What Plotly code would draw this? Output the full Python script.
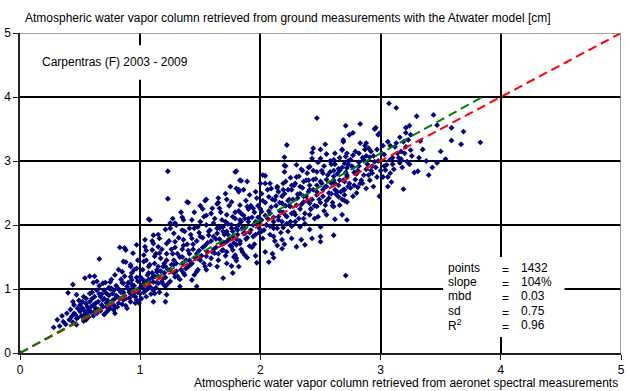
import plotly.graph_objects as go

# Precipitable water (cm): AERONET retrieval (x) vs Atwater model from ground data (y)
# -- scattered points, outskirts of the cloud --
wv_aeronet = [
    0.00,
    3.07, 3.13, 3.44, 3.69, 3.59, 3.83, 3.67, 3.47, 3.59, 3.24, 3.21, 3.21, 3.16, 3.19, 3.25, 3.23, 3.21, 3.25, 3.17, 3.12,
    3.08, 3.02, 3.33, 3.32, 3.38, 3.43, 3.54, 3.47, 3.28, 3.19, 3.09, 3.17, 3.22, 3.16, 3.08, 3.05, 3.11, 3.04, 3.08, 3.06,
    3.02, 2.99, 2.96, 2.99, 2.83, 2.71, 2.77, 2.74, 2.69, 2.83, 2.88, 2.92, 2.87, 2.82, 2.77, 2.72, 2.68, 2.86, 2.91, 2.95,
    2.75, 2.70, 2.72, 2.77, 2.81, 2.88, 2.93, 2.96, 2.72, 2.79, 2.84, 2.91, 2.94, 2.88, 2.81, 2.73, 2.69, 2.77, 2.70, 3.31,
    3.30,
    2.47, 2.95, 2.98, 2.69, 2.87, 2.54, 2.22, 2.43, 2.50, 2.20,
    2.44, 2.50, 2.55, 2.62, 2.68, 2.61, 2.71, 2.43, 2.21, 2.30, 2.20, 2.34, 2.41, 2.47, 2.52, 2.58, 2.65, 2.39, 2.32, 2.25,
    2.19, 2.29, 2.36, 2.44, 2.50, 2.55, 2.61, 2.66, 2.72, 2.02, 1.79, 1.84, 1.89, 2.04, 2.09, 2.15, 2.20, 2.26, 2.33, 2.40,
    2.47, 2.52, 2.59, 2.65, 2.70, 2.72, 2.66, 2.61, 2.54, 2.47, 2.41, 2.36, 2.30, 2.25, 2.18, 2.12, 2.07, 2.01, 1.96, 1.91,
    1.86, 1.80, 1.75, 1.71, 1.76, 1.83, 1.89, 1.94, 2.01, 2.08, 2.15, 2.22, 2.29, 2.36, 2.41, 2.48, 2.55, 2.62, 2.68, 2.72,
    2.50, 2.41, 2.33, 2.26, 2.19, 2.11, 2.05, 1.97, 1.90, 1.83, 1.77, 1.72, 1.69, 1.77, 1.86, 1.94, 2.02, 2.11, 2.18, 2.26,
    2.34, 2.43, 2.50, 2.61, 1.80, 1.91, 1.72,
    2.71, 2.50, 2.37, 2.30, 2.20, 2.18, 2.14, 2.10, 2.11, 2.07, 2.04, 1.97, 1.96, 1.89, 1.82, 1.76, 1.80, 1.79, 1.77,
    1.23, 1.39, 1.50, 1.08, 1.27, 1.29, 1.25, 1.36, 1.43, 1.53, 1.59, 1.66, 1.82, 1.55, 1.64, 1.21, 1.11, 1.04, 1.16, 1.28,
    1.35, 1.41, 1.48, 1.55, 1.61, 1.68, 1.84, 0.97, 0.94, 0.87, 0.86, 0.92, 0.98, 1.03, 1.10, 1.15, 1.22, 1.29, 1.36, 1.43,
    1.50, 1.57, 1.64, 1.72, 1.80, 1.87, 1.83, 1.76, 1.69, 1.62, 1.55, 1.48, 1.41, 1.35, 1.28, 1.21, 1.14, 1.07, 1.00, 0.93,
    0.86, 0.92, 1.03, 1.11, 1.19, 1.29, 1.37, 1.47, 1.55, 1.64, 1.72, 1.80, 1.87, 1.33, 1.47, 1.43, 1.69, 1.77,
    0.66, 0.83, 0.88, 0.92, 0.44, 0.54, 0.58, 0.62, 0.61, 0.69, 0.75, 0.79, 0.85, 0.76, 0.40, 0.47, 0.44, 0.53, 0.58, 0.64,
    0.67, 0.72, 0.83, 0.89, 0.92, 0.50, 0.55, 0.61, 0.69, 0.79, 0.86, 0.50, 0.57, 0.62, 0.72, 0.78, 0.39, 0.43, 0.31, 0.36,
    0.47, 0.28, 0.47, 0.53, 0.55, 1.00, 1.05, 1.12, 1.11, 1.21, 1.22, 0.97, 0.94, 1.03, 1.08, 1.15, 1.21, 1.04, 1.11, 1.12,
    1.16, 1.03, 0.97, 1.07, 1.14, 1.19, 0.92,
    1.23, 1.07, 1.40, 1.34, 1.80, 1.83, 1.65, 1.60, 1.54, 1.82, 2.04, 2.20, 2.14, 2.08, 2.00,
    0.45, 0.48, 0.52, 0.56, 0.59, 0.60, 0.63, 0.65, 0.66, 0.68, 0.70, 0.71, 0.73, 0.74, 0.76, 0.77, 0.79, 0.80, 0.81, 0.82,
    0.84, 0.85, 0.87, 0.88, 0.90, 0.91, 0.93, 0.95, 0.96, 0.98, 0.99, 1.01, 1.02, 1.04, 1.06, 1.07, 1.09, 1.10, 1.12, 1.13,
    1.15, 1.17, 1.18, 1.20, 1.22, 1.23, 1.25, 1.26, 1.28, 1.30, 1.31, 1.33, 1.35, 1.36, 1.38, 1.40, 1.42, 1.44, 1.45, 1.47,
    1.49, 1.50, 1.52, 1.54, 1.56, 1.58, 1.59, 1.61, 1.63, 1.65, 1.66, 1.68, 1.70, 1.71, 1.73, 1.74, 1.76, 1.78, 1.79, 1.81,
    1.82, 1.84, 1.85, 1.87, 1.88, 1.90, 1.92, 1.93, 1.95, 1.96, 1.98, 1.99, 2.01, 2.03, 2.04, 2.06, 2.08, 2.09, 2.11, 2.13,
    2.14, 2.16, 2.18, 2.19, 2.21, 2.23, 2.24, 2.26, 2.28, 2.29, 2.31, 2.33, 2.35, 2.37, 2.38, 2.40, 2.42, 2.44, 2.45, 2.47,
    2.49, 2.51, 2.53, 2.55, 2.57, 2.59, 2.60, 2.62, 2.64, 2.66, 2.68, 2.70, 2.73, 2.75, 2.78, 2.80, 2.82, 2.85, 2.88, 2.90,
    2.93, 2.97, 3.00, 3.03, 3.06, 3.10, 3.14, 3.18, 3.26, 3.35, 3.40, 3.50,
]
wv_atwater = [
    0.00,
    3.90, 3.83, 3.72, 3.46, 3.32, 3.29, 3.26, 3.56, 3.52, 3.55, 3.52, 3.44, 3.37, 3.30, 3.41, 3.33, 3.22, 3.17, 3.15, 3.22,
    3.24, 3.24, 3.31, 3.05, 3.00, 2.90, 3.03, 2.97, 2.82, 2.56, 2.67, 3.03, 2.99, 2.97, 3.02, 2.94, 2.87, 2.86, 2.81, 2.75,
    2.75, 2.45, 3.52, 3.43, 3.58, 3.55, 3.44, 3.41, 3.33, 3.28, 3.28, 3.15, 3.18, 3.12, 3.09, 3.12, 3.18, 3.02, 3.06, 2.99,
    3.02, 2.96, 2.89, 2.90, 2.85, 2.87, 2.81, 2.90, 2.75, 2.71, 2.70, 2.70, 2.60, 2.57, 2.59, 2.60, 2.55, 2.45, 2.47, 2.84,
    3.70,
    3.67, 3.50, 3.41, 3.30, 3.24, 3.26, 3.25, 3.13, 3.18, 3.06,
    3.20, 3.04, 3.11, 3.12, 3.17, 3.02, 3.07, 3.04, 2.92, 2.94, 2.83, 2.87, 2.91, 2.83, 2.81, 2.83, 2.88, 2.81, 2.76, 2.74,
    2.65, 2.65, 2.68, 2.71, 2.68, 2.71, 2.76, 2.70, 2.78, 2.78, 2.83, 2.69, 2.68, 2.65, 2.57, 2.52, 2.49, 2.55, 2.49, 2.52,
    2.47, 2.55, 2.49, 2.44, 2.55, 2.36, 2.31, 2.29, 2.31, 2.29, 2.34, 2.36, 2.31, 2.29, 2.34, 2.39, 2.44, 2.49, 2.52, 2.47,
    2.55, 2.57, 2.60, 2.49, 2.36, 2.31, 2.29, 2.26, 2.21, 2.18, 2.13, 2.13, 2.16, 2.10, 2.16, 2.13, 2.16, 2.09, 2.16, 2.08,
    1.97, 1.93, 1.97, 1.98, 1.96, 1.95, 2.00, 2.03, 2.05, 2.08, 2.13, 2.16, 1.97, 1.90, 1.87, 1.82, 1.79, 1.82, 1.77, 1.79,
    1.77, 1.79, 1.82, 1.84, 1.69, 1.67, 1.74,
    1.21, 1.74, 1.69, 1.66, 1.70, 1.63, 1.68, 1.55, 1.49, 1.42, 1.58, 1.41, 1.52, 1.49, 1.35, 1.36, 1.44, 1.53, 1.61,
    2.41, 2.36, 2.30, 2.08, 2.10, 2.03, 2.03, 2.08, 2.08, 2.13, 2.18, 2.26, 2.52, 2.40, 2.33, 1.93, 1.84, 1.77, 1.79, 1.87,
    1.92, 1.95, 1.97, 2.00, 2.03, 2.08, 2.18, 1.69, 1.56, 1.64, 1.43, 1.35, 1.45, 1.53, 1.61, 1.66, 1.71, 1.74, 1.77, 1.79,
    1.82, 1.84, 1.87, 1.90, 1.95, 1.87, 1.71, 1.66, 1.61, 1.56, 1.51, 1.48, 1.45, 1.40, 1.38, 1.35, 1.30, 1.25, 1.19, 1.14,
    1.09, 0.98, 1.04, 1.11, 1.17, 1.19, 1.22, 1.27, 1.30, 1.35, 1.40, 1.48, 1.53, 1.04, 1.04, 1.14, 1.17, 1.25,
    1.47, 1.65, 1.61, 1.38, 1.07, 1.17, 1.20, 1.20, 1.10, 1.09, 1.11, 1.22, 1.27, 1.01, 0.94, 0.91, 0.80, 0.88, 0.93, 0.98,
    0.88, 0.93, 0.98, 1.04, 0.93, 0.75, 0.77, 0.75, 0.83, 0.85, 0.83, 0.65, 0.67, 0.65, 0.72, 0.67, 0.62, 0.57, 0.52, 0.49,
    0.44, 0.40, 0.54, 0.59, 0.52, 0.93, 0.88, 0.93, 0.80, 0.80, 0.91, 0.83, 1.04, 1.09, 1.11, 1.09, 1.04, 1.66, 1.71, 1.51,
    1.56, 1.43, 1.32, 1.35, 1.27, 1.35, 1.19,
    2.84, 2.09, 2.35, 2.20, 2.84, 2.70, 2.42, 2.26, 2.38, 2.55, 2.77, 2.93, 2.60, 2.65, 2.65,
    0.62, 0.70, 0.80, 0.60, 0.72, 0.85, 0.78, 0.68, 0.92, 0.75, 0.98, 0.62, 0.82, 1.02, 0.77, 0.93, 0.72, 1.05, 0.88, 0.78,
    0.95, 1.10, 0.90, 0.74, 1.00, 0.86, 1.07, 0.95, 0.78, 1.12, 1.00, 0.85, 1.15, 0.97, 1.22, 1.05, 0.92, 1.18, 1.40, 1.02,
    1.20, 1.48, 1.12, 1.25, 1.55, 1.08, 1.30, 1.62, 1.45, 1.28, 1.55, 1.15, 1.50, 1.68, 1.32, 1.60, 1.38, 1.70, 1.22, 1.55,
    1.88, 1.45, 1.65, 1.35, 1.72, 1.92, 1.48, 1.62, 1.78, 1.55, 1.95, 1.70, 1.85, 1.52, 2.02, 1.78, 1.95, 1.72, 2.20, 1.85,
    2.00, 1.62, 1.95, 2.10, 1.78, 2.25, 1.92, 2.12, 1.70, 2.05, 2.30, 1.88, 2.08, 1.92, 2.35, 2.10, 1.85, 2.28, 2.05, 2.45,
    1.95, 2.22, 2.05, 2.55, 2.30, 1.90, 2.40, 2.18, 2.62, 2.05, 2.42, 2.25, 2.58, 2.02, 2.45, 2.70, 2.25, 2.55, 2.10, 2.62,
    2.40, 2.85, 2.22, 2.60, 2.42, 2.95, 2.35, 2.65, 2.52, 2.85, 2.40, 2.68, 2.95, 2.58, 2.82, 2.50, 2.98, 2.65, 3.08, 2.78,
    2.92, 3.18, 2.85, 3.10, 2.60, 3.05, 3.12, 2.90, 3.08, 3.18, 2.78, 3.15,
]

# -- the dense core of the cloud along the diagonal --
wv_aeronet_core = [
    0.41, 0.42, 0.44, 0.46, 0.48, 0.49, 0.51, 0.52, 0.53, 0.54, 0.55, 0.56, 0.57, 0.58, 0.59, 0.60, 0.38, 0.35, 0.33, 0.45,
    0.61, 0.62, 0.63, 0.64, 0.65, 0.66, 0.67, 0.68, 0.69, 0.70, 0.71, 0.72, 0.73, 0.74, 0.75, 0.76, 0.77, 0.78, 0.79, 0.80,
    0.64, 0.70, 0.75, 0.78,
    0.81, 0.82, 0.83, 0.84, 0.85, 0.86, 0.87, 0.88, 0.89, 0.90, 0.91, 0.92, 0.93, 0.94, 0.95, 0.96, 0.97, 0.98, 0.99, 0.82,
    0.88, 0.95,
    1.01, 1.02, 1.03, 1.04, 1.05, 1.06, 1.07, 1.08, 1.09, 1.10, 1.11, 1.12, 1.13, 1.14, 1.15, 1.16, 1.17, 1.18, 1.19, 1.20,
    1.05, 1.10, 1.15,
    1.21, 1.22, 1.23, 1.24, 1.25, 1.26, 1.27, 1.28, 1.29, 1.30, 1.31, 1.32, 1.33, 1.34, 1.35, 1.36, 1.37, 1.38, 1.39, 1.40,
    1.25, 1.30, 1.35,
    1.41, 1.42, 1.43, 1.44, 1.45, 1.46, 1.47, 1.48, 1.49, 1.50, 1.51, 1.52, 1.53, 1.54, 1.55, 1.56, 1.57, 1.58, 1.59, 1.60,
    1.45, 1.52,
    1.61, 1.62, 1.63, 1.64, 1.65, 1.66, 1.67, 1.68, 1.69, 1.70, 1.71, 1.72, 1.73, 1.74, 1.75, 1.76, 1.77, 1.78, 1.79, 1.80,
    1.65, 1.72,
    1.81, 1.82, 1.83, 1.84, 1.85, 1.86, 1.87, 1.88, 1.89, 1.90, 1.91, 1.92, 1.93, 1.94, 1.95, 1.96, 1.97, 1.98, 1.99, 2.00,
    2.01, 2.02, 2.04, 2.05, 2.06, 2.07, 2.08, 2.10, 2.11, 2.12, 2.13, 2.14, 2.15, 2.16, 2.17, 2.18, 2.19, 2.21, 2.22, 2.23,
    2.21, 2.23, 2.24, 2.25, 2.26, 2.27, 2.28, 2.30, 2.31, 2.32, 2.33, 2.34, 2.35, 2.36, 2.37, 2.38, 2.39, 2.40, 2.41, 2.42,
    2.41, 2.43, 2.44, 2.45, 2.46, 2.47, 2.48, 2.50, 2.51, 2.52, 2.53, 2.54, 2.55, 2.56, 2.57, 2.58, 2.59, 2.60, 2.61, 2.62,
    2.61, 2.62, 2.63, 2.64, 2.65, 2.66, 2.67, 2.68, 2.69, 2.70, 2.71, 2.73, 2.74, 2.76, 2.78, 2.79, 2.80,
    2.82, 2.83, 2.85, 2.86, 2.89, 2.90, 2.92, 2.94, 2.97, 2.98,
    3.01, 3.03, 3.06, 3.10, 3.13, 3.15, 3.20, 3.24,
]
wv_atwater_core = [
    0.52, 0.68, 0.48, 0.60, 0.55, 0.82, 0.58, 0.70, 0.50, 0.65, 0.85, 0.72, 0.56, 0.80, 0.64, 0.95, 0.45, 0.58, 0.42, 0.75,
    0.58, 0.88, 0.70, 0.62, 0.80, 1.05, 0.66, 0.92, 0.72, 0.85, 1.10, 0.78, 0.66, 0.90, 0.70, 1.15, 0.82, 0.98, 0.62, 0.90,
    1.12, 0.60, 1.00, 0.75,
    0.72, 1.00, 0.85, 1.15, 0.76, 0.95, 1.20, 0.85, 0.70, 1.10, 0.95, 0.80, 1.25, 0.90, 1.05, 0.88, 1.18, 0.95, 0.78, 1.30,
    1.42, 1.30,
    1.05, 1.30, 0.95, 1.12, 1.45, 1.00, 1.15, 1.38, 1.02, 1.25, 0.98, 1.20, 1.55, 1.10, 1.35, 0.95, 1.28, 1.62, 1.08, 1.40,
    1.60, 1.75, 1.85,
    1.18, 1.45, 1.30, 1.75, 1.12, 1.38, 1.55, 1.25, 1.65, 1.40, 1.20, 1.80, 1.50, 1.30, 1.62, 1.25, 1.90, 1.45, 1.70, 1.35,
    1.95, 2.00, 2.12,
    1.55, 1.85, 1.40, 1.62, 1.95, 1.48, 1.75, 1.30, 1.60, 2.05, 1.52, 1.80, 1.40, 1.68, 2.15, 1.58, 1.90, 1.38, 1.75, 1.58,
    2.20, 2.25,
    1.82, 2.10, 1.65, 1.95, 1.45, 1.78, 2.20, 1.60, 1.90, 1.72, 2.05, 1.58, 1.85, 2.30, 1.68, 2.00, 1.82, 1.50, 2.10, 1.78,
    2.35, 2.40,
    1.92, 2.22, 1.75, 2.05, 1.58, 2.15, 1.95, 2.38, 1.80, 2.10, 1.88, 2.30, 1.65, 2.00, 2.20, 1.85, 2.42, 2.12, 1.95, 2.25,
    1.90, 2.38, 2.15, 2.00, 2.55, 2.22, 1.98, 2.40, 2.12, 1.75, 2.30, 2.58, 2.08, 2.35, 1.88, 2.45, 2.20, 2.68, 2.02, 2.38,
    2.15, 2.55, 2.30, 2.05, 2.62, 2.40, 2.20, 2.75, 2.48, 2.10, 2.60, 2.32, 2.85, 2.45, 2.18, 2.70, 2.38, 2.90, 2.55, 2.25,
    2.62, 2.40, 2.85, 2.30, 2.72, 2.52, 2.98, 2.35, 2.65, 2.45, 2.92, 2.60, 2.38, 2.78, 2.50, 3.00, 2.65, 2.30, 2.85, 2.55,
    2.70, 2.95, 2.48, 2.80, 2.62, 3.05, 2.52, 2.90, 2.70, 2.38, 2.82, 3.00, 2.65, 2.92, 2.62, 3.15, 2.80,
    2.92, 2.65, 3.05, 2.78, 2.95, 3.20, 2.85, 3.08, 2.75, 3.00,
    3.12, 2.92, 3.30, 2.95, 3.28, 3.05, 3.12, 2.95,
]

# Statistics printed in the box
stat_names = ["points", "slope", "mbd", "sd", "R<sup>2</sup>"]
stat_values = ["1432", "104%", "0.03", "0.75", "0.96"]
slope_pct = 104
fit_x_end = 3.84

FONT = "Arial, Liberation Sans, sans-serif"
TXT = dict(family=FONT, size=12, color="black")

fig = go.Figure()
fig.add_trace(go.Scatter(
    x=wv_aeronet + wv_aeronet_core, y=wv_atwater + wv_atwater_core, mode="markers",
    marker=dict(symbol="diamond", size=4.5, color="#000080", line=dict(width=0)),
    hoverinfo="skip",
))
# 1:1 reference line
fig.add_trace(go.Scatter(
    x=[0, 5], y=[0, 5], mode="lines",
    line=dict(color="#FF0000", width=2, dash="9px,5px"), hoverinfo="skip",
))
# regression line through the origin
fig.add_trace(go.Scatter(
    x=[0, fit_x_end], y=[0, fit_x_end * slope_pct / 100], mode="lines",
    line=dict(color="#008000", width=2, dash="9px,5px"), hoverinfo="skip",
))

axis_common = dict(
    range=[0, 5], dtick=1, tick0=0, showgrid=True, gridcolor="black",
    zeroline=False, showline=True, linecolor="#222222", linewidth=1.5,
    ticks="outside", ticklen=5, tickcolor="#222222", tickwidth=1,
    tickfont=dict(family=FONT, size=12, color="black"), fixedrange=True, automargin=False,
)
fig.update_xaxes(gridwidth=1.5, **axis_common)
fig.update_yaxes(gridwidth=2, **axis_common)

shapes = [
    # white backgrounds of the two text boxes
    dict(type="rect", xref="x", yref="y", x0=0.12, x1=1.55, y0=4.27, y1=4.81,
         fillcolor="white", line=dict(width=0), layer="above"),
    dict(type="rect", xref="x", yref="y", x0=3.52, x1=4.53, y0=0.25, y1=1.5,
         fillcolor="white", line=dict(width=0), layer="above"),
    # grey frame on top and right
    dict(type="line", xref="x", yref="y", x0=0, x1=5, y0=5, y1=5,
         line=dict(color="#808080", width=1.5), layer="above"),
    dict(type="line", xref="x", yref="y", x0=5, x1=5, y0=0, y1=5,
         line=dict(color="#808080", width=1.5), layer="above"),
]

annotations = [
    dict(text="Atmospheric water vapor column retrieved from ground measurements with the Atwater model [cm]",
         xref="paper", yref="paper", x=0.005, y=1.047, xanchor="left", yanchor="middle",
         showarrow=False, font=TXT),
    dict(text="Atmospheric water vapor column retrieved from aeronet spectral measurements",
         xref="paper", yref="paper", x=0.998, y=-0.094, xanchor="right", yanchor="middle",
         showarrow=False, font=TXT),
    dict(text="Carpentras (F) 2003 - 2009", xref="x", yref="y", x=0.166, y=4.55,
         xanchor="left", yanchor="middle", showarrow=False, font=TXT),
]
row_y = [1.33, 1.11, 0.89, 0.66, 0.44]
for name, val, yy in zip(stat_names, stat_values, row_y):
    annotations.append(dict(text=name, xref="x", yref="y", x=3.54, y=yy, xanchor="left",
                            yanchor="middle", showarrow=False, font=TXT))
    annotations.append(dict(text="=", xref="x", yref="y", x=4.035, y=yy - 0.03, xanchor="center",
                            yanchor="middle", showarrow=False, font=TXT))
    annotations.append(dict(text=val, xref="x", yref="y", x=4.15, y=yy, xanchor="left",
                            yanchor="middle", showarrow=False, font=TXT))

fig.update_layout(
    width=629, height=391, margin=dict(l=20, r=8, t=33, b=38),
    plot_bgcolor="white", paper_bgcolor="white", showlegend=False,
    font=dict(family=FONT, size=12, color="black"),
    shapes=shapes, annotations=annotations,
)

fig.write_html("out.html")
